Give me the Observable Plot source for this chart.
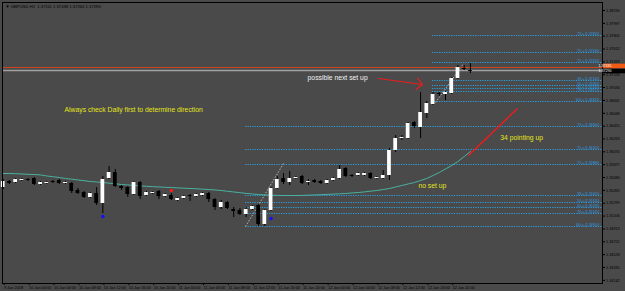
<!DOCTYPE html>
<html><head><meta charset="utf-8">
<script src="https://cdn.jsdelivr.net/npm/d3@7"></script>
<script src="https://cdn.jsdelivr.net/npm/@observablehq/plot@0.6"></script>
<style>
html,body{margin:0;padding:0;background:#4a4a4a;overflow:hidden}
#chart{width:625px;height:291px}
svg{display:block}
</style></head><body><div id="chart"></div>
<script>
// ---- data (GBPUSD H1, bars from 9 Jan 20:00) ----
const open = [1.35535,1.35625,1.3561,1.3564,1.35655,1.3567,1.3558,1.35595,1.35625,1.3564,
1.35595,1.35595,1.3549,1.3546,1.35385,1.35445,1.35295,1.3567,1.3576,1.3555,
1.35535,1.3543,1.3561,1.35415,1.35445,1.35475,1.354,1.35415,1.3534,1.3537,
1.35415,1.354,1.35415,1.35445,1.35355,1.35235,1.3531,1.35205,1.3519,1.3513,
1.35205,1.35265,1.3498,1.3519,1.3552,1.3567,1.3561,1.3567,1.357,1.3561,
1.3564,1.35625,1.35595,1.3564,1.3567,1.3582,1.35715,1.35715,1.35715,1.35745,
1.3567,1.3567,1.35715,1.3609,1.3627,1.3627,1.3651,1.36435,1.36645,1.3678,
1.36945,1.3693,1.36945,1.3717,1.3732,1.3729];
const close = [1.35625,1.35595,1.35655,1.35655,1.3564,1.3558,1.3561,1.3561,1.3561,1.35595,
1.3561,1.35475,1.35445,1.35385,1.35445,1.35295,1.35655,1.3576,1.3555,1.3552,
1.3543,1.3561,1.354,1.3546,1.3546,1.354,1.3543,1.35355,1.3537,1.354,
1.354,1.3543,1.35445,1.35355,1.35235,1.3531,1.3522,1.35175,1.3513,1.35205,
1.3525,1.3498,1.3519,1.3552,1.35655,1.3561,1.3567,1.35685,1.35595,1.35625,
1.3561,1.35595,1.3564,1.3567,1.35805,1.357,1.357,1.35745,1.35745,1.3567,
1.35685,1.35715,1.3609,1.3627,1.36285,1.36495,1.3645,1.3666,1.36795,1.3693,
1.3693,1.3696,1.3717,1.37335,1.37305,1.37275];
const high = [1.35655,1.3564,1.3567,1.3567,1.3567,1.35685,1.35625,1.35625,1.3564,1.35655,
1.35625,1.3561,1.3552,1.35475,1.3546,1.35535,1.357,1.3585,1.35805,1.35565,
1.3555,1.35625,1.35625,1.35475,1.35475,1.3549,1.35445,1.35445,1.35385,1.35415,
1.3543,1.35445,1.3546,1.3546,1.3537,1.3534,1.35325,1.35235,1.3522,1.35235,
1.35265,1.3528,1.35205,1.35535,1.357,1.35745,1.35775,1.357,1.35715,1.35655,
1.35655,1.3564,1.35655,1.35685,1.35865,1.35835,1.3573,1.3576,1.3576,1.3576,
1.357,1.3579,1.3612,1.36315,1.36315,1.3651,1.36525,1.3696,1.36825,1.3696,
1.3696,1.36975,1.37185,1.37365,1.37365,1.37395];
const low = [1.35505,1.3558,1.35595,1.35625,1.35625,1.35565,1.35565,1.3558,1.35595,1.3558,
1.3558,1.35445,1.3543,1.3537,1.3537,1.35265,1.35145,1.35655,1.35535,1.3549,
1.35385,1.35415,1.35355,1.354,1.3543,1.35355,1.35385,1.3534,1.35325,1.35355,
1.35325,1.35385,1.354,1.3531,1.3519,1.35205,1.35205,1.35085,1.35115,1.35085,
1.3519,1.3495,1.3495,1.35175,1.35505,1.3558,1.35565,1.35655,1.3558,1.35565,
1.35595,1.3558,1.3558,1.35625,1.35655,1.35685,1.35685,1.357,1.357,1.35655,
1.35655,1.35655,1.3564,1.3606,1.3624,1.36255,1.3642,1.3627,1.3657,1.36765,
1.369,1.3684,1.3693,1.37155,1.3729,1.37245];
const ma34 = [1.35745,1.35745,1.35742,1.35738,1.35733,1.3573,1.35723,1.35708,1.35696,1.35685,
1.3567,1.3566,1.35648,1.35637,1.35625,1.35618,1.3561,1.356,1.35591,1.3558,
1.35573,1.35565,1.35559,1.35553,1.35547,1.35543,1.35538,1.35534,1.35529,1.35525,
1.3552,1.35516,1.3551,1.35505,1.35498,1.3549,1.35478,1.35468,1.35457,1.35447,
1.35438,1.3543,1.35424,1.3542,1.35417,1.35415,1.35415,1.35415,1.35417,1.3542,
1.35423,1.35427,1.35432,1.35436,1.35441,1.35445,1.35453,1.3546,1.35469,1.3548,
1.3549,1.35505,1.3552,1.35543,1.35565,1.35588,1.3561,1.3564,1.3567,1.35715,
1.3576,1.35813,1.35865,1.35925,1.36,1.36075];

const xTickBars = [0,4,8,12,16,20,24,28,32,36,40,44,48,52,56,60,64,68,72];
const xTickLabels = ["9 Jan 2018","10 Jan 00:00","10 Jan 04:00","10 Jan 08:00","10 Jan 12:00","10 Jan 16:00","10 Jan 20:00",
"11 Jan 00:00","11 Jan 04:00","11 Jan 08:00","11 Jan 12:00","11 Jan 16:00","11 Jan 20:00",
"12 Jan 00:00","12 Jan 04:00","12 Jan 08:00","12 Jan 12:00","12 Jan 16:00","12 Jan 20:00"];
const yTicks = [1.38190,1.37997,1.37805,1.37612,1.37419,1.37226,1.37034,1.36841,1.36648,1.36455,1.36263,
1.36070,1.35877,1.35684,1.35492,1.35299,1.35106,1.34913,1.34721,1.34528,1.34335,1.34142];

// fibonacci levels (upper and lower sets)
const fibNames  = ["T3","T2","T1","38","50","61","76","100","T3","T2","T1","38","50","61","76","100"];
const fibPrices = [1.37815,1.3756,1.3741,1.3714,1.37065,1.3702,1.36975,1.36825,
                   1.3645,1.36105,1.3588,1.35415,1.3531,1.35235,1.35145,1.3495];
const fibStartBar = [68.9,68.9,68.9,68.9,68.9,68.9,68.9,68.9,38.9,38.9,38.9,38.9,38.9,38.9,38.9,38.9];
const fibDiagBars = [[38.9,45.0],[69.4,73.9]];
const fibDiagPrices = [[1.3495,1.35895],[1.3681,1.37395]];

const symbol = "GBPUSD,H1";
const lastBar = [1.37111,1.37438,1.37260,1.37290];
const bid = 1.37290, ask = 1.37335;

const notes = ["Always check Daily first to determine direction","possible next set up","34 pointing up","no set up"];
const noteBars = [9.84,48.86,79.8,66.65];
const notePrices = [1.36705,1.37185,1.36285,1.35565];
const noteColors = ["#e4e41a","#f2f2f2","#e4e41a","#e4e41a"];

const dotBars = [27,16,43];
const dotPrices = [1.3549,1.3510,1.3507];
const dotColors = ["#ff1a1a","#1010ff","#1010ff"];

const arrowBars = [60.24,67.3], arrowPrices = [1.3717,1.3708];
const slopeBars = [74.69,82.55], slopePrices = [1.36015,1.3672];

// ---- build ----
const bars = open.map((o,i)=>({i, open:o, close:close[i], high:high[i], low:low[i], ma:ma34[i]}));
const fibs = fibPrices.map((p,k)=>({price:p, start:fibStartBar[k], label:`${fibNames[k]} = (${p.toFixed(5)})`}));
const diags = fibDiagBars.map((b,k)=>({x1:b[0],x2:b[1],y1:fibDiagPrices[k][0],y2:fibDiagPrices[k][1]}));
const noteData = notes.map((t,k)=>({t, x:noteBars[k], y:notePrices[k], c:noteColors[k]}));
const dots = dotBars.map((b,k)=>({x:b, y:dotPrices[k], c:dotColors[k]}));
const xDom = [-0.112, 96.2];
const font = "Liberation Sans, Arial, sans-serif";

const chart = Plot.plot({
  width: 625, height: 291,
  marginLeft: 2, marginRight: 23, marginTop: 2, marginBottom: 8,
  style: {background: "#4a4a4a", fontFamily: font},
  x: {domain: xDom, axis: null},
  y: {domain: [1.34095, 1.3831], axis: null},
  marks: [
    Plot.ruleY(fibs, {y: "price", x1: "start", x2: () => xDom[1], stroke: "#2b9fe0", strokeDasharray: "1.2,1.2"}),
    Plot.text(fibs, {y: "price", x: () => xDom[1], text: "label", textAnchor: "end", dx: -3, dy: -1.6, fill: "#2b9fe0", fontSize: 3.4}),
    Plot.link(diags, {x1: "x1", x2: "x2", y1: "y1", y2: "y2", stroke: "#b8b8b8", strokeDasharray: "1.5,1.5"}),
    Plot.ruleY([ask], {stroke: "#d0471f"}),
    Plot.ruleY([bid], {stroke: "#a0a0a0", strokeWidth: 1.4}),
    Plot.line(bars, {x: "i", y: "ma", stroke: "#48b2a0", strokeWidth: 1}),
    Plot.ruleX(bars, {x: "i", y1: "low", y2: "high", stroke: "#000"}),
    Plot.rect(bars, {x1: d => d.i - 0.3, x2: d => d.i + 0.3, y1: "open", y2: "close",
      fill: d => d.close >= d.open ? "#ffffff" : "#000000"}),
    Plot.dot(dots, {x: "x", y: "y", r: 1.8, fill: "c"}),
    Plot.arrow([0], {x1: () => arrowBars[0], x2: () => arrowBars[1], y1: () => arrowPrices[0], y2: () => arrowPrices[1],
      stroke: "#ee1c1c", strokeWidth: 1.2, headLength: 10, headAngle: 90}),
    Plot.link([0], {x1: () => slopeBars[0], x2: () => slopeBars[1], y1: () => slopePrices[0], y2: () => slopePrices[1],
      stroke: "#ee1c1c", strokeWidth: 1.4}),
    Plot.text(noteData, {x: "x", y: "y", text: "t", fill: "c", textAnchor: "start", fontSize: 6.8}),
    Plot.frame({stroke: "#000"}),
    Plot.axisY(yTicks, {anchor: "right", tickSize: 2, tickPadding: 1.5, tickFormat: d => d.toFixed(5), fontSize: 3.8, color: "#000"}),
    Plot.axisX(xTickBars, {anchor: "bottom", tickSize: 2, tickPadding: 1, tickFormat: (d, k) => xTickLabels[k], textAnchor: "start", dx: 1, fontSize: 3.8, color: "#000"}),
    Plot.text([`\u25BC ${symbol}  ${lastBar.map(v => v.toFixed(5)).join(" ")}`], {frameAnchor: "top-left", dx: 3, dy: 3, fontSize: 4.2, fill: "#000", textAnchor: "start"})
  ]
});
document.getElementById("chart").appendChild(chart);

// price boxes on the right axis, placed through the y scale
const ys = chart.scale("y");
const svg = d3.select(chart);
[[ask, "#f05a14", "#fff", -1], [bid, "#000", "#fff", 1]].forEach(([v, bg, fg, off]) => {
  const y = ys.apply(v) + off;
  const g = svg.append("g");
  g.append("rect").attr("x", 603).attr("y", y - 2.3).attr("width", 22).attr("height", 4.6).attr("fill", bg);
  g.append("text").attr("x", 605).attr("y", y).attr("dy", "0.35em").attr("font-size", 3.6).attr("font-family", font)
    .attr("fill", fg).text(v.toFixed(5));
});
</script></body></html>
